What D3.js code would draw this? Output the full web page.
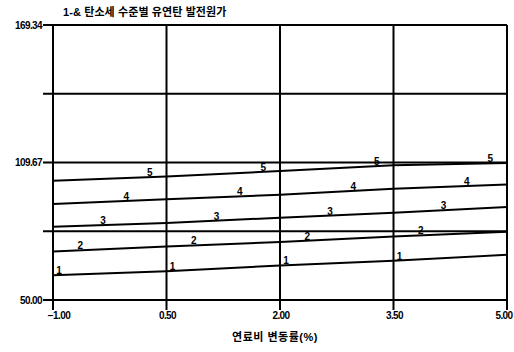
<!DOCTYPE html>
<html>
<head>
<meta charset="utf-8">
<script src="https://cdn.jsdelivr.net/npm/d3@7"></script>
<style>
  body { margin: 0; background: #fff; }
  text { font-family: "Liberation Sans", "Noto Sans CJK KR", sans-serif; font-weight: bold; fill: #000; }
</style>
</head>
<body>
<div id="svg-container"></div>
<script>
// chart text
var titleText = "1-& 탄소세 수준별 유연탄 발전원가";
var xTitle = "연료비 변동률(%)";

// x values (fuel cost change, %)
var xValues = [-1.0, 0.5, 2.0, 3.5, 5.0];

// y grid values and labelled ticks
var yGrid = [50.00, 79.835, 109.67, 139.505, 169.34];
var yLabelled = [50.00, 109.67, 169.34];

// series names and values at each x
var seriesNames = ["1", "2", "3", "4", "5"];
var series1 = [60.7, 62.5, 65.0, 67.0, 69.6];
var series2 = [71.0, 73.2, 75.2, 77.6, 79.6];
var series3 = [81.8, 83.4, 85.7, 87.9, 90.4];
var series4 = [91.7, 93.7, 95.7, 98.3, 100.1];
var series5 = [101.8, 103.6, 106.0, 108.5, 109.4];

// where the number labels sit along each line (x values)
var labelStart = [-0.92, -0.64, -0.34, -0.03, 0.28];
var labelStep = 1.5;

var allSeries = [series1, series2, series3, series4, series5];

// svg dimensions
var width = 514, height = 352;
var margin = { top: 25, right: 7, bottom: 52, left: 53 };
var plotW = width - margin.left - margin.right;
var plotH = height - margin.top - margin.bottom;

var svg = d3.select("#svg-container").append("svg")
    .attr("width", width)
    .attr("height", height);

var g = svg.append("g")
    .attr("transform", "translate(" + margin.left + "," + margin.top + ")");

// scales
var x = d3.scaleLinear().domain([-1, 5]).range([0, plotW]);
var y = d3.scaleLinear().domain([50, 169.34]).range([plotH, 0]);

// horizontal grid lines, with a short tick out to the left
g.selectAll(".hgrid")
  .data(yGrid)
  .enter()
  .append("line")
    .attr("x1", -10)
    .attr("x2", plotW)
    .attr("y1", function(d) { return y(d); })
    .attr("y2", function(d) { return y(d); })
    .attr("stroke", "#000")
    .attr("stroke-width", 2);

// vertical grid lines, with a short tick below
g.selectAll(".vgrid")
  .data(xValues)
  .enter()
  .append("line")
    .attr("x1", function(d) { return x(d); })
    .attr("x2", function(d) { return x(d); })
    .attr("y1", 0)
    .attr("y2", plotH + 10)
    .attr("stroke", "#000")
    .attr("stroke-width", 2);

// y tick labels
g.selectAll(".ylab")
  .data(yLabelled)
  .enter()
  .append("text")
    .attr("x", -11)
    .attr("y", function(d) { return y(d) + 3.5; })
    .attr("text-anchor", "end")
    .style("font-size", "10px")
    .style("letter-spacing", "-0.6px")
    .text(function(d) { return d3.format(".2f")(d); });

// x tick labels
g.selectAll(".xlab")
  .data(xValues)
  .enter()
  .append("text")
    .attr("x", function(d, i) { return x(d) + (i === 0 ? 6 : (i === xValues.length - 1 ? -3 : 1)); })
    .attr("y", plotH + 19)
    .attr("text-anchor", "middle")
    .style("font-size", "10px")
    .style("letter-spacing", "-0.6px")
    .text(function(d) { return d3.format(".2f")(d); });

// series lines
var line = d3.line()
    .x(function(d, i) { return x(xValues[i]); })
    .y(function(d) { return y(d); });

g.selectAll(".series")
  .data(allSeries)
  .enter()
  .append("path")
    .attr("d", line)
    .attr("fill", "none")
    .attr("stroke", "#000")
    .attr("stroke-width", 2);

// number labels sitting on each line
var interp = function(values, xv) {
  return d3.scaleLinear().domain(xValues).range(values)(xv);
};
var labels = [];
allSeries.forEach(function(values, s) {
  for (var k = 0; k < 4; k++) {
    var xv = labelStart[s] + k * labelStep;
    labels.push({ name: seriesNames[s], x: xv, v: interp(values, xv) });
  }
});

g.selectAll(".num")
  .data(labels)
  .enter()
  .append("text")
    .attr("x", function(d) { return x(d.x); })
    .attr("y", function(d) { return y(d.v) - 1; })
    .attr("text-anchor", "middle")
    .style("font-size", "10px")
    .text(function(d) { return d.name; });

// title
svg.append("text")
    .attr("x", 63)
    .attr("y", 16)
    .style("font-size", "11px")
    .style("letter-spacing", "0.1px")
    .text(titleText);

// x-axis title
svg.append("text")
    .attr("x", 275)
    .attr("y", 341)
    .attr("text-anchor", "middle")
    .style("font-size", "11px")
    .style("letter-spacing", "0.5px")
    .text(xTitle);
</script>
</body>
</html>
